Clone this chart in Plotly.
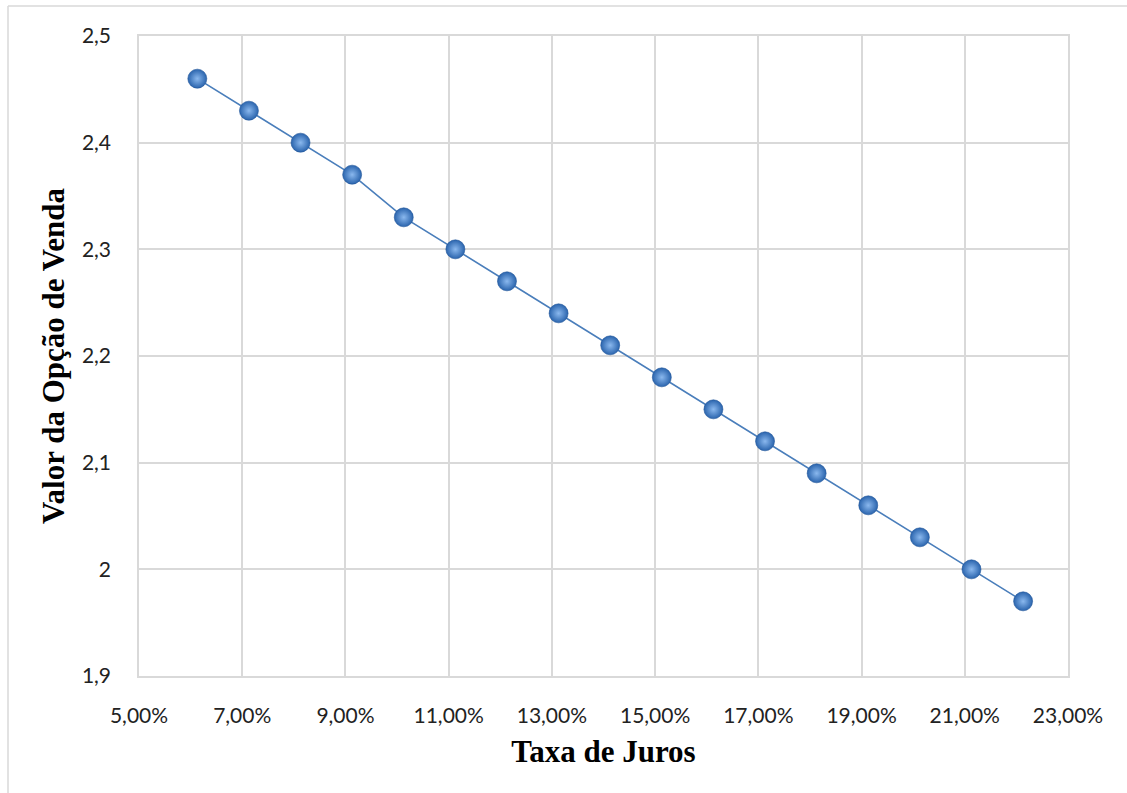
import plotly.graph_objects as go

# Taxa de juros (fração) e valor da opção de venda correspondente
taxa_juros = [0.0613, 0.0713, 0.0813, 0.0913, 0.1013, 0.1113, 0.1213, 0.1313,
              0.1413, 0.1513, 0.1613, 0.1713, 0.1813, 0.1913, 0.2013, 0.2113, 0.2213]
valor_opcao = [2.46, 2.43, 2.40, 2.37, 2.33, 2.30, 2.27, 2.24,
               2.21, 2.18, 2.15, 2.12, 2.09, 2.06, 2.03, 2.00, 1.97]

W, H = 1127, 793
ML, MR, MT, MB = 139, 59, 36, 117
pw, ph = W - ML - MR, H - MT - MB

grid = "#d9d9d9"
tick_font = dict(family="Lato, Carlito, Calibri, sans-serif", size=21, color="#222222")
title_font = dict(family="Liberation Serif, Times New Roman, serif", size=31, color="#000000")

fig = go.Figure()
fig.add_trace(go.Scatter(
    x=taxa_juros, y=valor_opcao, mode="lines+markers",
    line=dict(color="#4a7ebb", width=1.6),
    marker=dict(size=19, color="#2a64ad",
                gradient=dict(type="radial", color="#8ab8ee"),
                line=dict(width=0.6, color="#24589a")),
    showlegend=False, hoverinfo="x+y",
))

fig.update_layout(
    width=W, height=H,
    margin=dict(l=ML, r=MR, t=MT, b=MB),
    paper_bgcolor="white", plot_bgcolor="white",
    separators=",.",
    xaxis=dict(
        range=[0.05, 0.23], tick0=0.05, dtick=0.02, tickformat=".2%",
        showgrid=True, gridcolor=grid, gridwidth=1.5,
        showline=True, linecolor=grid, linewidth=1.5, mirror=True,
        zeroline=False, ticks="", tickfont=tick_font, ticklabelstandoff=20,
        title=dict(text="<b>Taxa de Juros</b>", font=title_font, standoff=14),
    ),
    yaxis=dict(
        range=[1.9, 2.5], tick0=1.9, dtick=0.1, tickformat="~g",
        showgrid=True, gridcolor=grid, gridwidth=1.5,
        showline=True, linecolor=grid, linewidth=1.5, mirror=True,
        zeroline=False, ticks="", tickfont=tick_font, ticklabelstandoff=22,
        title=dict(text="<b>Valor da Opção de Venda</b>", font=title_font, standoff=8),
    ),
    shapes=[
        # moldura externa do gráfico
        dict(type="line", xref="paper", yref="paper",
             x0=(8 - ML) / pw, x1=(W + 5 - ML) / pw,
             y0=(H - MB - 6) / ph, y1=(H - MB - 6) / ph,
             line=dict(color=grid, width=1.5)),
        dict(type="line", xref="paper", yref="paper",
             x0=(8 - ML) / pw, x1=(8 - ML) / pw,
             y0=(H - MB - 6) / ph, y1=-(MB + 5) / ph,
             line=dict(color=grid, width=1.5)),
    ],
)

fig.write_html("out.html")
